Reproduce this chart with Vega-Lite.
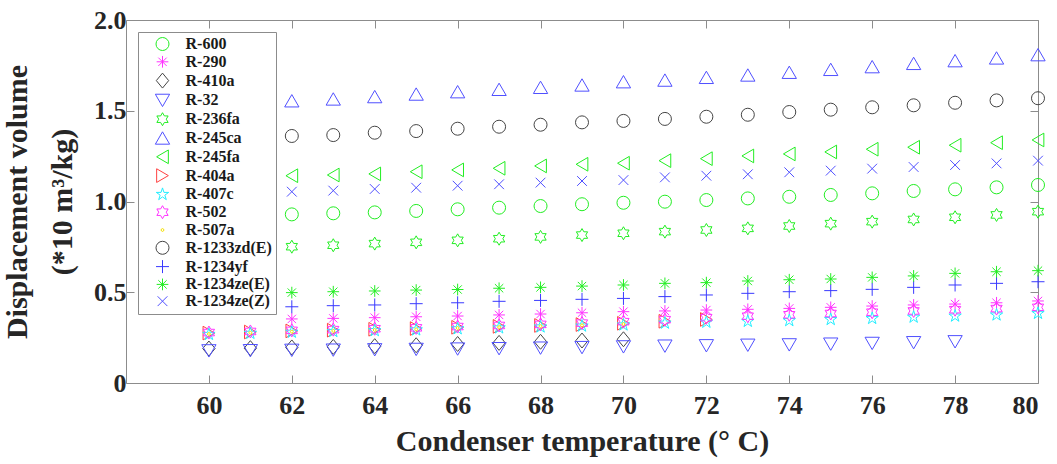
{
  "$schema": "https://vega.github.io/schema/vega-lite/v6.json",
  "width": 912,
  "height": 363,
  "autosize": {"type": "none"},
  "padding": {"left": 126, "top": 20, "right": 19, "bottom": 81},
  "background": "white",
  "config": {
    "view": {"stroke": null},
    "font": "Liberation Serif",
    "axis": {
      "grid": false,
      "domainColor": "#8c8c8c",
      "domainWidth": 1,
      "tickColor": "#8c8c8c",
      "tickWidth": 1,
      "tickSize": -8,
      "labelFont": "Liberation Serif",
      "labelFontWeight": "bold",
      "labelFontSize": 26,
      "labelColor": "#262626",
      "titleFont": "Liberation Serif",
      "titleFontWeight": "bold",
      "titleFontSize": 30,
      "titleColor": "#262626"
    },
    "legend": {
      "orient": "top-left",
      "offset": 12,
      "padding": 4,
      "zindex": 1,
      "fillColor": "white",
      "strokeColor": "#8c8c8c",
      "labelFont": "Liberation Serif",
      "labelFontWeight": "bold",
      "labelFontSize": 16,
      "labelColor": "#1a1a1a",
      "symbolSize": 169,
      "symbolStrokeWidth": 1,
      "symbolOffset": 12.5,
      "labelOffset": 15,
      "rowPadding": 0.8
    }
  },
  "data": {
    "values": [
      {"r": "R-600", "t": 62, "v": 0.929}, {"r": "R-600", "t": 63, "v": 0.935}, {"r": "R-600", "t": 64, "v": 0.940}, {"r": "R-600", "t": 65, "v": 0.948}, {"r": "R-600", "t": 66, "v": 0.957}, {"r": "R-600", "t": 67, "v": 0.966}, {"r": "R-600", "t": 68, "v": 0.975}, {"r": "R-600", "t": 69, "v": 0.985}, {"r": "R-600", "t": 70, "v": 0.993}, {"r": "R-600", "t": 71, "v": 0.999}, {"r": "R-600", "t": 72, "v": 1.008}, {"r": "R-600", "t": 73, "v": 1.017}, {"r": "R-600", "t": 74, "v": 1.026}, {"r": "R-600", "t": 75, "v": 1.036}, {"r": "R-600", "t": 76, "v": 1.045}, {"r": "R-600", "t": 77, "v": 1.058}, {"r": "R-600", "t": 78, "v": 1.067}, {"r": "R-600", "t": 79, "v": 1.078}, {"r": "R-600", "t": 80, "v": 1.091},

      {"r": "R-290", "t": 62, "v": 0.353}, {"r": "R-290", "t": 63, "v": 0.356}, {"r": "R-290", "t": 64, "v": 0.360}, {"r": "R-290", "t": 65, "v": 0.365}, {"r": "R-290", "t": 66, "v": 0.369}, {"r": "R-290", "t": 67, "v": 0.375}, {"r": "R-290", "t": 68, "v": 0.380}, {"r": "R-290", "t": 69, "v": 0.387}, {"r": "R-290", "t": 70, "v": 0.393}, {"r": "R-290", "t": 71, "v": 0.397}, {"r": "R-290", "t": 72, "v": 0.402}, {"r": "R-290", "t": 73, "v": 0.406}, {"r": "R-290", "t": 74, "v": 0.411}, {"r": "R-290", "t": 75, "v": 0.417}, {"r": "R-290", "t": 76, "v": 0.424}, {"r": "R-290", "t": 77, "v": 0.430}, {"r": "R-290", "t": 78, "v": 0.435}, {"r": "R-290", "t": 79, "v": 0.442}, {"r": "R-290", "t": 80, "v": 0.452},

      {"r": "R-410a", "t": 60, "v": 0.190}, {"r": "R-410a", "t": 61, "v": 0.192}, {"r": "R-410a", "t": 62, "v": 0.196}, {"r": "R-410a", "t": 63, "v": 0.199}, {"r": "R-410a", "t": 64, "v": 0.203}, {"r": "R-410a", "t": 65, "v": 0.208}, {"r": "R-410a", "t": 66, "v": 0.215}, {"r": "R-410a", "t": 67, "v": 0.221}, {"r": "R-410a", "t": 68, "v": 0.227}, {"r": "R-410a", "t": 69, "v": 0.234}, {"r": "R-410a", "t": 70, "v": 0.241},

      {"r": "R-32", "t": 60, "v": 0.177}, {"r": "R-32", "t": 61, "v": 0.178}, {"r": "R-32", "t": 62, "v": 0.180}, {"r": "R-32", "t": 63, "v": 0.181}, {"r": "R-32", "t": 64, "v": 0.183}, {"r": "R-32", "t": 65, "v": 0.185}, {"r": "R-32", "t": 66, "v": 0.187}, {"r": "R-32", "t": 67, "v": 0.189}, {"r": "R-32", "t": 68, "v": 0.192}, {"r": "R-32", "t": 69, "v": 0.195}, {"r": "R-32", "t": 70, "v": 0.199}, {"r": "R-32", "t": 71, "v": 0.203}, {"r": "R-32", "t": 72, "v": 0.205}, {"r": "R-32", "t": 73, "v": 0.208}, {"r": "R-32", "t": 74, "v": 0.210}, {"r": "R-32", "t": 75, "v": 0.214}, {"r": "R-32", "t": 76, "v": 0.218}, {"r": "R-32", "t": 77, "v": 0.222}, {"r": "R-32", "t": 78, "v": 0.227},

      {"r": "R-236fa", "t": 62, "v": 0.751}, {"r": "R-236fa", "t": 63, "v": 0.759}, {"r": "R-236fa", "t": 64, "v": 0.768}, {"r": "R-236fa", "t": 65, "v": 0.775}, {"r": "R-236fa", "t": 66, "v": 0.786}, {"r": "R-236fa", "t": 67, "v": 0.795}, {"r": "R-236fa", "t": 68, "v": 0.805}, {"r": "R-236fa", "t": 69, "v": 0.815}, {"r": "R-236fa", "t": 70, "v": 0.825}, {"r": "R-236fa", "t": 71, "v": 0.834}, {"r": "R-236fa", "t": 72, "v": 0.843}, {"r": "R-236fa", "t": 73, "v": 0.852}, {"r": "R-236fa", "t": 74, "v": 0.865}, {"r": "R-236fa", "t": 75, "v": 0.878}, {"r": "R-236fa", "t": 76, "v": 0.889}, {"r": "R-236fa", "t": 77, "v": 0.901}, {"r": "R-236fa", "t": 78, "v": 0.913}, {"r": "R-236fa", "t": 79, "v": 0.926}, {"r": "R-236fa", "t": 80, "v": 0.944},

      {"r": "R-245ca", "t": 62, "v": 1.555}, {"r": "R-245ca", "t": 63, "v": 1.565}, {"r": "R-245ca", "t": 64, "v": 1.578}, {"r": "R-245ca", "t": 65, "v": 1.592}, {"r": "R-245ca", "t": 66, "v": 1.605}, {"r": "R-245ca", "t": 67, "v": 1.618}, {"r": "R-245ca", "t": 68, "v": 1.629}, {"r": "R-245ca", "t": 69, "v": 1.642}, {"r": "R-245ca", "t": 70, "v": 1.660}, {"r": "R-245ca", "t": 71, "v": 1.669}, {"r": "R-245ca", "t": 72, "v": 1.684}, {"r": "R-245ca", "t": 73, "v": 1.697}, {"r": "R-245ca", "t": 74, "v": 1.712}, {"r": "R-245ca", "t": 75, "v": 1.728}, {"r": "R-245ca", "t": 76, "v": 1.743}, {"r": "R-245ca", "t": 77, "v": 1.761}, {"r": "R-245ca", "t": 78, "v": 1.776}, {"r": "R-245ca", "t": 79, "v": 1.791}, {"r": "R-245ca", "t": 80, "v": 1.809},

      {"r": "R-245fa", "t": 62, "v": 1.142}, {"r": "R-245fa", "t": 63, "v": 1.146}, {"r": "R-245fa", "t": 64, "v": 1.152}, {"r": "R-245fa", "t": 65, "v": 1.164}, {"r": "R-245fa", "t": 66, "v": 1.174}, {"r": "R-245fa", "t": 67, "v": 1.183}, {"r": "R-245fa", "t": 68, "v": 1.196}, {"r": "R-245fa", "t": 69, "v": 1.205}, {"r": "R-245fa", "t": 70, "v": 1.211}, {"r": "R-245fa", "t": 71, "v": 1.225}, {"r": "R-245fa", "t": 72, "v": 1.236}, {"r": "R-245fa", "t": 73, "v": 1.251}, {"r": "R-245fa", "t": 74, "v": 1.262}, {"r": "R-245fa", "t": 75, "v": 1.273}, {"r": "R-245fa", "t": 76, "v": 1.288}, {"r": "R-245fa", "t": 77, "v": 1.299}, {"r": "R-245fa", "t": 78, "v": 1.310}, {"r": "R-245fa", "t": 79, "v": 1.324}, {"r": "R-245fa", "t": 80, "v": 1.339},

      {"r": "R-404a", "t": 60, "v": 0.275}, {"r": "R-404a", "t": 61, "v": 0.281}, {"r": "R-404a", "t": 62, "v": 0.287}, {"r": "R-404a", "t": 63, "v": 0.291}, {"r": "R-404a", "t": 64, "v": 0.296}, {"r": "R-404a", "t": 65, "v": 0.300}, {"r": "R-404a", "t": 66, "v": 0.307}, {"r": "R-404a", "t": 67, "v": 0.312}, {"r": "R-404a", "t": 68, "v": 0.317}, {"r": "R-404a", "t": 69, "v": 0.322}, {"r": "R-404a", "t": 70, "v": 0.329}, {"r": "R-404a", "t": 71, "v": 0.340}, {"r": "R-404a", "t": 72, "v": 0.350},

      {"r": "R-407c", "t": 60, "v": 0.268}, {"r": "R-407c", "t": 61, "v": 0.274}, {"r": "R-407c", "t": 62, "v": 0.280}, {"r": "R-407c", "t": 63, "v": 0.284}, {"r": "R-407c", "t": 64, "v": 0.289}, {"r": "R-407c", "t": 65, "v": 0.293}, {"r": "R-407c", "t": 66, "v": 0.299}, {"r": "R-407c", "t": 67, "v": 0.304}, {"r": "R-407c", "t": 68, "v": 0.309}, {"r": "R-407c", "t": 69, "v": 0.314}, {"r": "R-407c", "t": 70, "v": 0.320}, {"r": "R-407c", "t": 71, "v": 0.330}, {"r": "R-407c", "t": 72, "v": 0.335}, {"r": "R-407c", "t": 73, "v": 0.340}, {"r": "R-407c", "t": 74, "v": 0.344}, {"r": "R-407c", "t": 75, "v": 0.350}, {"r": "R-407c", "t": 76, "v": 0.356}, {"r": "R-407c", "t": 77, "v": 0.363}, {"r": "R-407c", "t": 78, "v": 0.369}, {"r": "R-407c", "t": 79, "v": 0.375}, {"r": "R-407c", "t": 80, "v": 0.384},

      {"r": "R-502", "t": 60, "v": 0.278}, {"r": "R-502", "t": 61, "v": 0.284}, {"r": "R-502", "t": 62, "v": 0.290}, {"r": "R-502", "t": 63, "v": 0.294}, {"r": "R-502", "t": 64, "v": 0.299}, {"r": "R-502", "t": 65, "v": 0.304}, {"r": "R-502", "t": 66, "v": 0.311}, {"r": "R-502", "t": 67, "v": 0.317}, {"r": "R-502", "t": 68, "v": 0.323}, {"r": "R-502", "t": 69, "v": 0.330}, {"r": "R-502", "t": 70, "v": 0.338}, {"r": "R-502", "t": 71, "v": 0.349}, {"r": "R-502", "t": 72, "v": 0.360}, {"r": "R-502", "t": 73, "v": 0.368}, {"r": "R-502", "t": 74, "v": 0.376}, {"r": "R-502", "t": 75, "v": 0.383}, {"r": "R-502", "t": 76, "v": 0.390}, {"r": "R-502", "t": 77, "v": 0.397}, {"r": "R-502", "t": 78, "v": 0.404}, {"r": "R-502", "t": 79, "v": 0.410}, {"r": "R-502", "t": 80, "v": 0.417},

      {"r": "R-507a", "t": 60, "v": 0.270}, {"r": "R-507a", "t": 61, "v": 0.277}, {"r": "R-507a", "t": 62, "v": 0.283}, {"r": "R-507a", "t": 63, "v": 0.287}, {"r": "R-507a", "t": 64, "v": 0.292}, {"r": "R-507a", "t": 65, "v": 0.296}, {"r": "R-507a", "t": 66, "v": 0.303}, {"r": "R-507a", "t": 67, "v": 0.308}, {"r": "R-507a", "t": 68, "v": 0.313}, {"r": "R-507a", "t": 69, "v": 0.318}, {"r": "R-507a", "t": 70, "v": 0.325},

      {"r": "R-1233zd(E)", "t": 62, "v": 1.361}, {"r": "R-1233zd(E)", "t": 63, "v": 1.366}, {"r": "R-1233zd(E)", "t": 64, "v": 1.379}, {"r": "R-1233zd(E)", "t": 65, "v": 1.388}, {"r": "R-1233zd(E)", "t": 66, "v": 1.401}, {"r": "R-1233zd(E)", "t": 67, "v": 1.412}, {"r": "R-1233zd(E)", "t": 68, "v": 1.423}, {"r": "R-1233zd(E)", "t": 69, "v": 1.436}, {"r": "R-1233zd(E)", "t": 70, "v": 1.444}, {"r": "R-1233zd(E)", "t": 71, "v": 1.455}, {"r": "R-1233zd(E)", "t": 72, "v": 1.467}, {"r": "R-1233zd(E)", "t": 73, "v": 1.478}, {"r": "R-1233zd(E)", "t": 74, "v": 1.493}, {"r": "R-1233zd(E)", "t": 75, "v": 1.506}, {"r": "R-1233zd(E)", "t": 76, "v": 1.519}, {"r": "R-1233zd(E)", "t": 77, "v": 1.530}, {"r": "R-1233zd(E)", "t": 78, "v": 1.544}, {"r": "R-1233zd(E)", "t": 79, "v": 1.557}, {"r": "R-1233zd(E)", "t": 80, "v": 1.569},

      {"r": "R-1234yf", "t": 62, "v": 0.420}, {"r": "R-1234yf", "t": 63, "v": 0.426}, {"r": "R-1234yf", "t": 64, "v": 0.430}, {"r": "R-1234yf", "t": 65, "v": 0.437}, {"r": "R-1234yf", "t": 66, "v": 0.442}, {"r": "R-1234yf", "t": 67, "v": 0.450}, {"r": "R-1234yf", "t": 68, "v": 0.455}, {"r": "R-1234yf", "t": 69, "v": 0.461}, {"r": "R-1234yf", "t": 70, "v": 0.466}, {"r": "R-1234yf", "t": 71, "v": 0.476}, {"r": "R-1234yf", "t": 72, "v": 0.485}, {"r": "R-1234yf", "t": 73, "v": 0.494}, {"r": "R-1234yf", "t": 74, "v": 0.503}, {"r": "R-1234yf", "t": 75, "v": 0.509}, {"r": "R-1234yf", "t": 76, "v": 0.516}, {"r": "R-1234yf", "t": 77, "v": 0.527}, {"r": "R-1234yf", "t": 78, "v": 0.540}, {"r": "R-1234yf", "t": 79, "v": 0.549}, {"r": "R-1234yf", "t": 80, "v": 0.558},

      {"r": "R-1234ze(E)", "t": 62, "v": 0.498}, {"r": "R-1234ze(E)", "t": 63, "v": 0.503}, {"r": "R-1234ze(E)", "t": 64, "v": 0.507}, {"r": "R-1234ze(E)", "t": 65, "v": 0.512}, {"r": "R-1234ze(E)", "t": 66, "v": 0.515}, {"r": "R-1234ze(E)", "t": 67, "v": 0.522}, {"r": "R-1234ze(E)", "t": 68, "v": 0.527}, {"r": "R-1234ze(E)", "t": 69, "v": 0.534}, {"r": "R-1234ze(E)", "t": 70, "v": 0.540}, {"r": "R-1234ze(E)", "t": 71, "v": 0.549}, {"r": "R-1234ze(E)", "t": 72, "v": 0.553}, {"r": "R-1234ze(E)", "t": 73, "v": 0.562}, {"r": "R-1234ze(E)", "t": 74, "v": 0.569}, {"r": "R-1234ze(E)", "t": 75, "v": 0.573}, {"r": "R-1234ze(E)", "t": 76, "v": 0.582}, {"r": "R-1234ze(E)", "t": 77, "v": 0.590}, {"r": "R-1234ze(E)", "t": 78, "v": 0.604}, {"r": "R-1234ze(E)", "t": 79, "v": 0.613}, {"r": "R-1234ze(E)", "t": 80, "v": 0.619},

      {"r": "R-1234ze(Z)", "t": 62, "v": 1.054}, {"r": "R-1234ze(Z)", "t": 63, "v": 1.060}, {"r": "R-1234ze(Z)", "t": 64, "v": 1.069}, {"r": "R-1234ze(Z)", "t": 65, "v": 1.076}, {"r": "R-1234ze(Z)", "t": 66, "v": 1.087}, {"r": "R-1234ze(Z)", "t": 67, "v": 1.095}, {"r": "R-1234ze(Z)", "t": 68, "v": 1.104}, {"r": "R-1234ze(Z)", "t": 69, "v": 1.113}, {"r": "R-1234ze(Z)", "t": 70, "v": 1.118}, {"r": "R-1234ze(Z)", "t": 71, "v": 1.133}, {"r": "R-1234ze(Z)", "t": 72, "v": 1.142}, {"r": "R-1234ze(Z)", "t": 73, "v": 1.150}, {"r": "R-1234ze(Z)", "t": 74, "v": 1.161}, {"r": "R-1234ze(Z)", "t": 75, "v": 1.170}, {"r": "R-1234ze(Z)", "t": 76, "v": 1.181}, {"r": "R-1234ze(Z)", "t": 77, "v": 1.190}, {"r": "R-1234ze(Z)", "t": 78, "v": 1.201}, {"r": "R-1234ze(Z)", "t": 79, "v": 1.210}, {"r": "R-1234ze(Z)", "t": 80, "v": 1.225}
    ]
  },
  "layer": [
    {
      "mark": {"type": "point", "filled": false, "size": 169, "strokeWidth": 1, "opacity": 1},
      "encoding": {
        "x": {
          "field": "t", "type": "quantitative",
          "scale": {"domain": [58, 80], "nice": false, "zero": false},
          "axis": {"orient": "bottom", "values": [60, 62, 64, 66, 68, 70, 72, 74, 76, 78, 80], "labelPadding": 17, "title": "Condenser temperature (° C)", "titlePadding": 8}
        },
        "y": {
          "field": "v", "type": "quantitative",
          "scale": {"domain": [0, 2], "nice": false},
          "axis": {"orient": "left", "values": [0, 0.5, 1, 1.5, 2], "format": ".1f", "labelExpr": "datum.value == 0 ? '0' : datum.label", "labelPadding": 8, "title": ["Displacement volume", "(*10 m³/kg)"], "titlePadding": 16, "titleLineHeight": 45}
        },
        "shape": {
          "field": "r", "type": "nominal",
          "scale": {
            "domain": ["R-600", "R-290", "R-410a", "R-32", "R-236fa", "R-245ca", "R-245fa", "R-404a", "R-407c", "R-502", "R-507a", "R-1233zd(E)", "R-1234yf", "R-1234ze(E)", "R-1234ze(Z)"],
            "range": [
              "circle",
              "M-0.9,0L0.9,0M0,-0.9L0,0.9M-0.64,-0.64L0.64,0.64M-0.64,0.64L0.64,-0.64",
              "M0,-1.15L0.95,0L0,1.15L-0.95,0Z",
              "M-1.1,-0.95L1.1,-0.95L0,0.95Z",
              "M0,-1L0.289,-0.5L0.866,-0.5L0.577,0L0.866,0.5L0.289,0.5L0,1L-0.289,0.5L-0.866,0.5L-0.577,0L-0.866,-0.5L-0.289,-0.5Z",
              "M0,-0.95L1.1,0.95L-1.1,0.95Z",
              "M-0.9,0L0.9,-1.05L0.9,1.05Z",
              "M0.9,0L-0.9,-1.05L-0.9,1.05Z",
              "M0,-1L0.225,-0.309L0.951,-0.309L0.363,0.118L0.588,0.809L0,0.382L-0.588,0.809L-0.363,0.118L-0.951,-0.309L-0.225,-0.309Z",
              "M0,-1L0.289,-0.5L0.866,-0.5L0.577,0L0.866,0.5L0.289,0.5L0,1L-0.289,0.5L-0.866,0.5L-0.577,0L-0.866,-0.5L-0.289,-0.5Z",
              "M-0.22,0A0.22,0.22,0,1,0,0.22,0A0.22,0.22,0,1,0,-0.22,0Z",
              "circle",
              "M-1,0L1,0M0,-1L0,1",
              "M-0.9,0L0.9,0M0,-0.9L0,0.9M-0.64,-0.64L0.64,0.64M-0.64,0.64L0.64,-0.64",
              "M-0.75,-0.75L0.75,0.75M-0.75,0.75L0.75,-0.75"
            ]
          },
          "legend": {"title": null}
        },
        "color": {
          "field": "r", "type": "nominal",
          "scale": {
            "domain": ["R-600", "R-290", "R-410a", "R-32", "R-236fa", "R-245ca", "R-245fa", "R-404a", "R-407c", "R-502", "R-507a", "R-1233zd(E)", "R-1234yf", "R-1234ze(E)", "R-1234ze(Z)"],
            "range": ["#22ee22", "#ff33ff", "#454545", "#5050ff", "#22ee22", "#5050ff", "#22ee22", "#ff4040", "#22eeff", "#ff33ff", "#f5e000", "#454545", "#3a3aff", "#22ee22", "#5050ff"]
          },
          "legend": {"title": null}
        }
      }
    },
    {
      "mark": {"type": "point", "opacity": 0},
      "encoding": {
        "x": {
          "field": "t", "type": "quantitative",
          "axis": {"orient": "top", "values": [60, 62, 64, 66, 68, 70, 72, 74, 76, 78, 80], "labels": false, "title": null}
        },
        "y": {
          "field": "v", "type": "quantitative",
          "axis": {"orient": "right", "values": [0, 0.5, 1, 1.5, 2], "labels": false, "title": null}
        }
      }
    }
  ],
  "resolve": {"axis": {"x": "independent", "y": "independent"}}
}
